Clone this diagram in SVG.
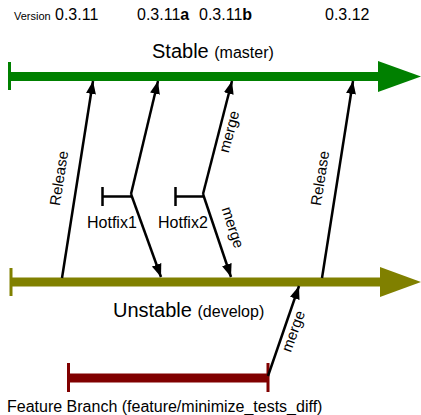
<svg xmlns="http://www.w3.org/2000/svg" width="421" height="415" viewBox="0 0 421 415">
<defs>
<style>
text{font-family:"Liberation Sans",Arial,sans-serif;fill:#000}
.ver{font-size:16px}
.big{font-size:20px}
.mid{font-size:16px}
.sm{font-size:11px}
.lbl{font-size:15px}
.par{font-size:16px}
.conn{stroke:#000;stroke-width:2.5;fill:none}
.conn.arr{marker-end:url(#ah)}
.bar{stroke-width:3;fill:none}
</style>
<marker id="ah" markerUnits="userSpaceOnUse" markerWidth="14" markerHeight="12" viewBox="0 0 14 12" refX="13" refY="6" orient="auto">
<path d="M0,1 L13,6 L0,11 Z" fill="#000"/>
</marker>
</defs>
<rect width="421" height="415" fill="#fff"/>
<g id="versions">
<text class="sm" x="14" y="20">Version</text>
<text class="ver" x="55" y="20">0.3.11</text>
<text class="ver" x="137" y="20">0.3.11<tspan font-weight="bold">a</tspan></text>
<text class="ver" x="199" y="20">0.3.11<tspan font-weight="bold">b</tspan></text>
<text class="ver" x="325" y="20">0.3.12</text>
</g>
<g id="stable">
<line x1="9.5" y1="62" x2="9.5" y2="90" stroke="#008000" class="bar"/>
<line x1="9" y1="76.5" x2="382" y2="76.5" stroke="#008000" stroke-width="9"/>
<polygon points="378,61 421,76.5 378,92" fill="#008000"/>
<text class="big" x="152" y="58">Stable <tspan class="par">(master)</tspan></text>
</g>
<g id="unstable">
<line x1="11" y1="268" x2="11" y2="296" stroke="#808000" class="bar"/>
<line x1="10" y1="282" x2="384" y2="282" stroke="#808000" stroke-width="9"/>
<polygon points="380,267 421,282 380,297" fill="#808000"/>
<text class="big" x="113" y="317">Unstable <tspan class="par">(develop)</tspan></text>
</g>
<g id="feature">
<line x1="68.5" y1="363" x2="68.5" y2="392" stroke="#800000" class="bar"/>
<line x1="68" y1="378" x2="268" y2="378" stroke="#800000" stroke-width="9"/>
<line x1="268" y1="363" x2="268" y2="392" stroke="#800000" class="bar"/>
<text class="mid" x="7" y="412">Feature Branch (feature/minimize_tests_diff)</text>
</g>
<g id="hotfix1">
<path class="conn" d="M102.5,187 V206 M102.5,196.5 H131"/>
<text class="mid" x="87" y="228">Hotfix1</text>
</g>
<g id="hotfix2">
<path class="conn" d="M175.5,187 V206 M175.5,196.5 H203"/>
<text class="mid" x="158" y="228">Hotfix2</text>
</g>
<g id="connectors">
<line class="conn arr" x1="62" y1="278" x2="93" y2="81"/>
<line class="conn arr" x1="131" y1="194" x2="158" y2="81"/>
<line class="conn arr" x1="131" y1="194" x2="161" y2="277"/>
<line class="conn arr" x1="203" y1="194" x2="232" y2="81"/>
<line class="conn arr" x1="203" y1="194" x2="231" y2="277"/>
<line class="conn arr" x1="322" y1="278" x2="353" y2="81"/>
<line class="conn arr" x1="268" y1="376" x2="299" y2="286"/>
<text class="lbl" text-anchor="middle" transform="translate(64,179) rotate(-81)">Release</text>
<text class="lbl" text-anchor="middle" transform="translate(325,179) rotate(-81)">Release</text>
<text class="lbl" text-anchor="middle" transform="translate(234,133) rotate(-75)">merge</text>
<text class="lbl" text-anchor="middle" transform="translate(228,229) rotate(72)">merge</text>
<text class="lbl" text-anchor="middle" transform="translate(298,333) rotate(-70)">merge</text>
</g>
</svg>
